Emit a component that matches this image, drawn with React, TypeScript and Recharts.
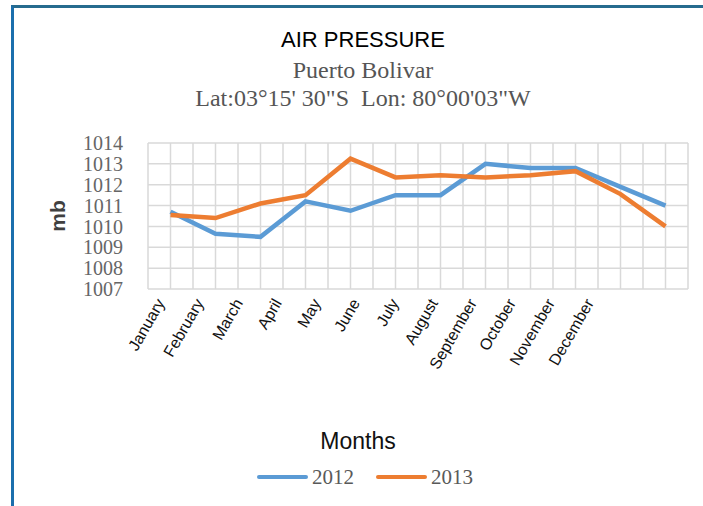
import { CartesianGrid, ComposedChart, Legend, Line, XAxis, YAxis } from "recharts";

const months = [
  "January",
  "February",
  "March",
  "April",
  "May",
  "June",
  "July",
  "August",
  "September",
  "October",
  "November",
  "December"
];
const pressure2012 = [1010.7, 1009.65, 1009.5, 1011.2, 1010.75, 1011.5, 1011.5, 1013.0, 1012.8, 1012.8, 1011.9, 1011.0];
const pressure2013 = [1010.55, 1010.4, 1011.1, 1011.5, 1013.25, 1012.35, 1012.45, 1012.35, 1012.45, 1012.65, 1011.55, 1010.0];
const yTicks = [1007, 1008, 1009, 1010, 1011, 1012, 1013, 1014];
const seriesNames = ["2012", "2013"];

const data = months.map((month, i) => ({
  month,
  y2012: pressure2012[i],
  y2013: pressure2013[i]
}));

const serif = "'Liberation Serif', 'Times New Roman', serif";
const sans = "'Liberation Sans', Arial, sans-serif";

// labels sit a bit left of their category, drifting further left along the axis
function MonthTick({ x, y, payload, index }: any) {
  return (
    <g transform={`translate(${x - 10 - index * 6},${y})`}>
      <text textAnchor="end" transform="rotate(-60)" dy="0.35em" fontSize={16} fontFamily={sans} fill="#111">
        {payload.value}
      </text>
    </g>
  );
}

function LegendContent({ payload }: any) {
  return (
    <div style={{ display: "flex", alignItems: "center", gap: 22 }}>
      {(payload || []).map((e: any) => (
        <div key={e.value} style={{ display: "flex", alignItems: "center" }}>
          <span style={{ display: "inline-block", width: 51, height: 4, borderRadius: 2, background: e.color }} />
          <span style={{ fontFamily: serif, fontSize: 21, color: "#595959", marginLeft: 4, lineHeight: "24px" }}>
            {e.value}
          </span>
        </div>
      ))}
    </div>
  );
}

export default function App() {
  return (
    <div style={{ position: "fixed", left: 0, top: 0, width: 703, height: 506, background: "#fff", overflow: "hidden" }}>
      <div
        style={{
          position: "absolute",
          left: 11,
          top: 5,
          right: 0,
          bottom: 0,
          borderLeft: "3px solid #1b6fad",
          borderTop: "3px solid #266b8e"
        }}
      />
      <div style={{ position: "absolute", left: 11, width: 704, top: 0, textAlign: "center" }}>
        <div style={{ position: "absolute", left: 0, right: 0, top: 27, fontFamily: sans, fontSize: 22, color: "#000", lineHeight: "26px" }}>
          AIR PRESSURE
        </div>
        <div style={{ position: "absolute", left: 0, right: 0, top: 56, fontFamily: serif, fontSize: 24, color: "#555", lineHeight: "28px" }}>
          Puerto Bolivar
        </div>
        <div
          style={{
            position: "absolute",
            left: 0,
            right: 0,
            top: 84,
            fontFamily: serif,
            fontSize: 24,
            color: "#555",
            lineHeight: "28px",
            whiteSpace: "pre"
          }}
        >
          {"Lat:03°15' 30\"S  Lon: 80°00'03\"W"}
        </div>
      </div>
      <ComposedChart width={703} height={506} data={data} margin={{ top: 143, right: 15, bottom: 57, left: 0 }}>
        <CartesianGrid
          stroke="#d9d9d9"
          strokeWidth={1.5}
          verticalCoordinatesGenerator={({ offset }: any) =>
            Array.from({ length: months.length * 2 + 1 }, (_, i) => offset.left + (i * offset.width) / (months.length * 2))
          }
        />
        <XAxis
          dataKey="month"
          interval={0}
          padding={{ left: 22.5, right: 22.5 }}
          axisLine={false}
          tickLine={false}
          tickSize={0}
          tickMargin={11}
          height={160}
          tick={<MonthTick />}
          label={({ viewBox }: any) => (
            <text
              x={viewBox.x + viewBox.width / 2 - 60}
              y={viewBox.y + 160}
              textAnchor="middle"
              fontFamily={sans}
              fontSize={23}
              fill="#111"
            >
              Months
            </text>
          )}
        />
        <YAxis
          domain={[1007, 1014]}
          ticks={yTicks}
          interval={0}
          width={148}
          axisLine={false}
          tickLine={false}
          tickSize={0}
          tickMargin={25}
          tick={{ fontFamily: serif, fontSize: 20, fill: "#666" }}
          label={({ viewBox }: any) => (
            <text
              x={57}
              y={viewBox.y + viewBox.height / 2}
              transform={`rotate(-90, 57, ${viewBox.y + viewBox.height / 2})`}
              textAnchor="middle"
              dominantBaseline="central"
              fontFamily={sans}
              fontWeight="bold"
              fontSize={21}
              fill="#404040"
            >
              mb
            </text>
          )}
        />
        <Legend verticalAlign="middle" content={<LegendContent />} wrapperStyle={{ left: 257, top: 465, width: "auto" }} />
        <Line
          type="linear"
          dataKey="y2012"
          name={seriesNames[0]}
          stroke="#5b9bd5"
          strokeWidth={4.5}
          dot={false}
          isAnimationActive={false}
        />
        <Line
          type="linear"
          dataKey="y2013"
          name={seriesNames[1]}
          stroke="#ed7d31"
          strokeWidth={4.5}
          dot={false}
          isAnimationActive={false}
        />
      </ComposedChart>
    </div>
  );
}
